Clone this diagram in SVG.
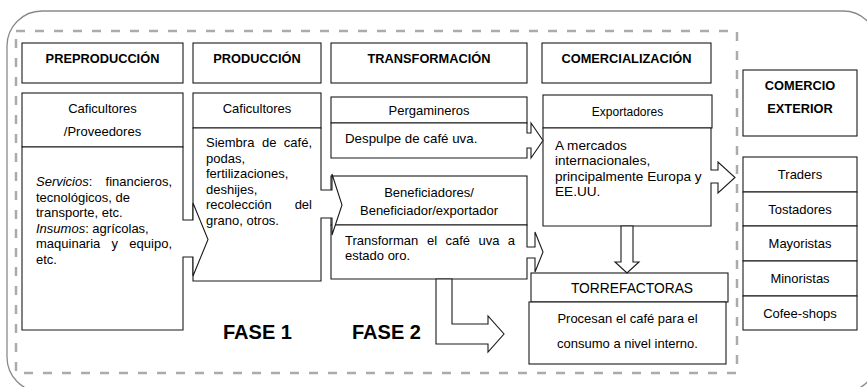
<svg xmlns="http://www.w3.org/2000/svg" width="867" height="387" viewBox="0 0 867 387">
<style>
.box{fill:#fff;stroke:#1a1a1a;stroke-width:1.1}
.t{font-family:"Liberation Sans",Arial,sans-serif;font-size:13px;fill:#000}
.h{font-weight:bold;font-size:12.8px}
.c{text-anchor:middle}
.e{text-anchor:end}
.f{font-family:"Liberation Sans",Arial,sans-serif;font-weight:bold;font-size:20px;fill:#000}
</style>
<rect width="867" height="387" fill="#fff"/>
<rect x="7" y="11" width="871" height="381" rx="35" fill="none" stroke="#8a8a8a" stroke-width="1.3"/>
<rect x="16" y="31" width="721" height="342" fill="none" stroke="#ababab" stroke-width="2.5" stroke-dasharray="9 10"/>

<g id="h-preproduccion"><rect class="box" x="22" y="43" width="161" height="40"/><text class="t h c" x="102.5" y="62.5">PREPRODUCCIÓN</text></g>
<g id="h-produccion"><rect class="box" x="193" y="43" width="128" height="40"/><text class="t h c" x="257" y="62.5">PRODUCCIÓN</text></g>
<g id="h-transformacion"><rect class="box" x="331" y="43" width="196" height="40"/><text class="t h c" x="429" y="62.5">TRANSFORMACIÓN</text></g>
<g id="h-comercializacion"><rect class="box" x="542" y="43" width="169" height="40"/><text class="t h c" x="626.5" y="62.5">COMERCIALIZACIÓN</text></g>

<g id="comercio-exterior"><rect class="box" x="743" y="70" width="114" height="66"/><text class="t h c" x="800" y="89.5">COMERCIO</text><text class="t h c" x="800" y="112.5">EXTERIOR</text></g>
<g id="lista-exterior">
<rect class="box" x="743" y="157" width="114" height="35"/><text class="t c" x="800" y="179">Traders</text>
<rect class="box" x="743" y="192" width="114" height="34"/><text class="t c" x="800" y="213.5">Tostadores</text>
<rect class="box" x="743" y="226" width="114" height="35"/><text class="t c" x="800" y="248">Mayoristas</text>
<rect class="box" x="743" y="261" width="114" height="35"/><text class="t c" x="800" y="283">Minoristas</text>
<rect class="box" x="743" y="296" width="114" height="34"/><text class="t c" x="800" y="317.5">Cofee-shops</text>
</g>

<g id="torrefactoras">
<rect class="box" x="531" y="273" width="197" height="29"/><text class="t c" x="632" y="292.5" style="font-size:13.8px">TORREFACTORAS</text>
<rect class="box" x="529" y="302" width="197" height="62"/>
<text class="t c" x="627.5" y="322.5">Procesan el café para el</text>
<text class="t c" x="627.5" y="347.5">consumo a nivel interno.</text>
</g>

<g id="exportadores">
<rect class="box" x="543" y="95" width="169" height="33"/><text class="t c" x="627.5" y="115.5" style="font-size:12px">Exportadores</text>
<path class="box" d="M543,128H711V170H718V162L735,177.5L718,193V183H711V226H543Z"/>
<g class="t" style="font-size:13.6px">
<text x="555" y="149.5">A mercados</text>
<text x="555" y="165">internacionales,</text>
<text x="555" y="180.5">principalmente Europa y</text>
<text x="555" y="196">EE.UU.</text>
</g>
</g>

<g id="pergamineros">
<rect class="box" x="331" y="97" width="196" height="26"/><text class="t c" x="429" y="114.5">Pergamineros</text>
<path class="box" d="M331,123H527V133H531V123L543,140.5L531,158V148H527V158H331Z"/>
<text class="t" x="345" y="142.5" style="font-size:13.3px">Despulpe de café uva.</text>
</g>

<g id="beneficiadores">
<rect class="box" x="331" y="176" width="196" height="49"/>
<text class="t c" x="429" y="196.5">Beneficiadores/</text>
<text class="t c" x="429" y="214.5">Beneficiador/exportador</text>
<path class="box" d="M331,225H527V247H535V232L543,252L535,272V258H527V279H331Z"/>
<text class="t" y="244.5"><tspan x="345">Transforman</tspan><tspan x="427">el</tspan><tspan x="445.5">café</tspan><tspan x="478.5">uva</tspan><tspan x="515" text-anchor="end">a</tspan></text>
<text class="t" x="345" y="259.5">estado oro.</text>
</g>

<g id="produccion">
<rect class="box" x="193" y="93" width="128" height="35"/><text class="t c" x="257" y="112.5">Caficultores</text>
<path class="box" d="M193,128H321V190H332V174L342,205L332,235V218H321V281H193Z"/>
<text class="t" y="147"><tspan x="206">Siembra</tspan><tspan x="262">de</tspan><tspan x="312" text-anchor="end">café,</tspan></text>
<text class="t" x="206" y="162.5">podas,</text>
<text class="t" x="206" y="178">fertilizaciones,</text>
<text class="t" x="206" y="193.5">deshijes,</text>
<text class="t" y="209"><tspan x="206">recolección</tspan><tspan x="312" text-anchor="end">del</tspan></text>
<text class="t" x="206" y="224.5">grano, otros.</text>
</g>

<g id="preproduccion">
<rect class="box" x="22" y="93" width="161" height="54"/>
<text class="t c" x="102.5" y="112.5">Caficultores</text>
<text class="t c" x="102.5" y="135.5">/Proveedores</text>
<path class="box" d="M22,147H183V220H193V203L208,239.5L193,276V257H183V330H22Z"/>
<text class="t" y="186"><tspan x="36" font-style="italic">Servicios</tspan><tspan>:</tspan><tspan x="172" text-anchor="end">financieros,</tspan></text>
<text class="t" x="36" y="201.5">tecnológicos, de</text>
<text class="t" x="36" y="217">transporte, etc.</text>
<text class="t" x="36" y="232.5"><tspan font-style="italic">Insumos</tspan>: agrícolas,</text>
<text class="t" y="248"><tspan x="36">maquinaria</tspan><tspan x="111.6">y</tspan><tspan x="172" text-anchor="end">equipo,</tspan></text>
<text class="t" x="36" y="263.5">etc.</text>
</g>

<g id="connectors">
<path class="box" d="M621,226H633V262H639L627,273L615,262H621Z"/>
<path class="box" d="M436,279H452V324H488V316L504,334L488,352V344H436Z"/>
</g>

<g id="fases">
<text class="f" x="223" y="339">FASE 1</text>
<text class="f" x="352" y="339">FASE 2</text>
</g>
</svg>
